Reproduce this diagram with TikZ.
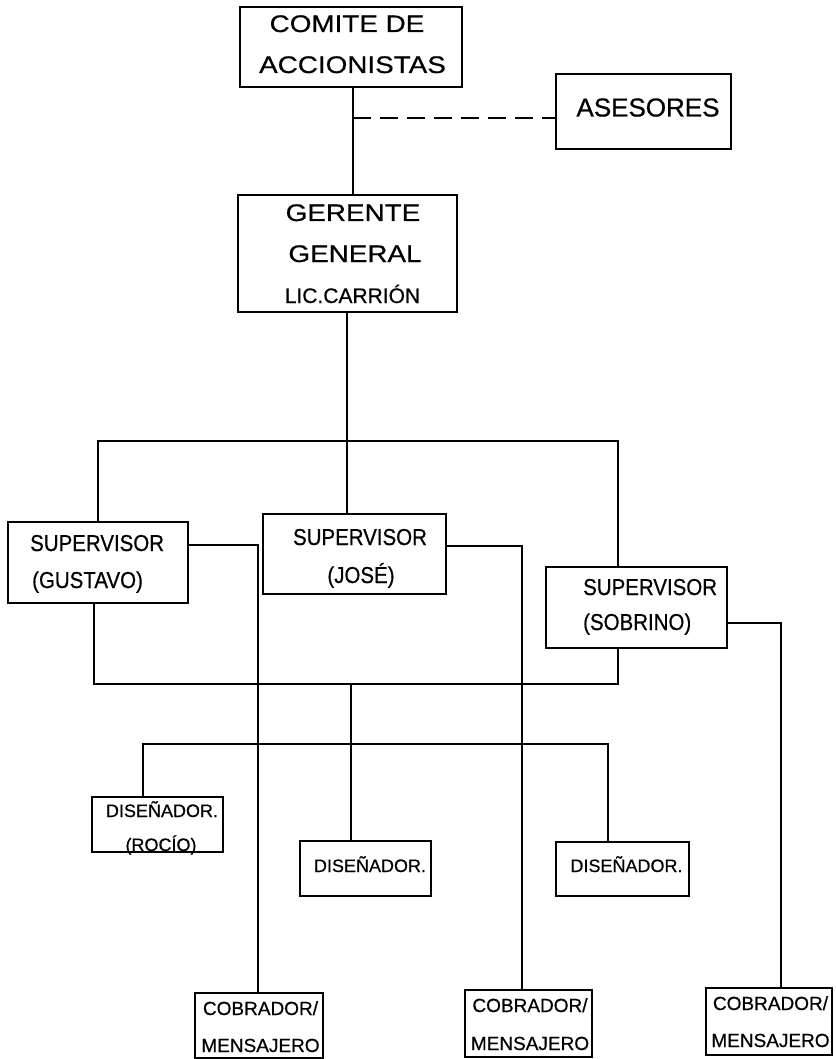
\documentclass[tikz,border=0pt]{standalone}
\usepackage{fontspec}
\setmainfont[FakeBold=0.6]{Liberation Sans}
\newfontfamily\wideface[FakeStretch=1.16,FakeBold=0.6]{Liberation Sans}
\newfontfamily\narrowface[FakeStretch=0.89,FakeBold=0.6]{Liberation Sans}
\begin{document}
\begin{tikzpicture}[x=1pt,y=-1pt,
  box/.style={draw, line width=1.2pt, inner sep=0pt},
  lbl/.style={inner sep=0pt, anchor=base},
  lblw/.style={inner sep=0pt, anchor=base west},
  fbig/.style={font=\wideface\fontsize{24}{28}\selectfont},
  flic/.style={font=\fontsize{21}{25}\selectfont},
  fases/.style={font=\fontsize{26}{30}\selectfont},
  fsup/.style={font=\narrowface\fontsize{23}{27}\selectfont},
  fdis/.style={font=\fontsize{18}{22}\selectfont},
  fcob/.style={font=\fontsize{19}{23}\selectfont},
  conn/.style={line width=1.2pt}]
\useasboundingbox (0,0) rectangle (835,1059);
% boxes
\node[box, minimum width=222pt, minimum height=80pt] (comite) at (351,47) {};
\node[box, minimum width=175pt, minimum height=75pt] (asesores) at (643.5,111.5) {};
\node[box, minimum width=219pt, minimum height=117pt] (gerente) at (347.5,253.5) {};
\node[box, minimum width=180pt, minimum height=81pt] (gustavo) at (98,562.5) {};
\node[box, minimum width=183pt, minimum height=80pt] (jose) at (354.5,554) {};
\node[box, minimum width=181pt, minimum height=81pt] (sobrino) at (636.5,607.5) {};
\node[box, minimum width=131pt, minimum height=55pt] (rocio) at (157.5,824.5) {};
\node[box, minimum width=131pt, minimum height=55pt] (dis2) at (365.5,868.5) {};
\node[box, minimum width=133pt, minimum height=54pt] (dis3) at (622.5,869) {};
\node[box, minimum width=128pt, minimum height=65pt] (cob1) at (259,1025.5) {};
\node[box, minimum width=127pt, minimum height=67pt] (cob2) at (528.5,1023.5) {};
\node[box, minimum width=126pt, minimum height=67pt] (cob3) at (769,1021.5) {};
% texts
\node[lbl, fbig] (t1) at (347,32) {COMITE DE};
\node[lbl, fbig] (t2) at (352.5,73) {ACCIONISTAS};
\node[lbl, fases] (t3) at (648,116.5) {ASESORES};
\node[lbl, fbig] (t4) at (353,221) {GERENTE};
\node[lbl, fbig] (t5) at (355,262) {GENERAL};
\node[lbl, flic] (t6) at (352.5,303) {LIC.CARRIÓN};
\node[lblw, fsup] (t7) at (30,551) {SUPERVISOR};
\node[lblw, fsup] (t8) at (32,588) {(GUSTAVO)};
\node[lbl, fsup] (t9) at (360,545) {SUPERVISOR};
\node[lbl, fsup] (t10) at (361,583) {(JOSÉ)};
\node[lblw, fsup] (t11) at (583,595) {SUPERVISOR};
\node[lblw, fsup] (t12) at (583,630) {(SOBRINO)};
\node[lbl, fdis] (t13) at (162,817) {DISEÑADOR.};
\node[lbl, fdis] (t14) at (161,851) {(ROCÍO)};
\node[lbl, fdis] (t15) at (370,872) {DISEÑADOR.};
\node[lbl, fdis] (t16) at (626.5,872) {DISEÑADOR.};
\node[lbl, fcob] (t17) at (260.5,1015) {COBRADOR/};
\node[lbl, fcob] (t18) at (260.5,1052) {MENSAJERO};
\node[lbl, fcob] (t19) at (530,1012) {COBRADOR/};
\node[lbl, fcob] (t20) at (530,1050) {MENSAJERO};
\node[lbl, fcob] (t21) at (770.5,1010) {COBRADOR/};
\node[lbl, fcob] (t22) at (770.5,1047) {MENSAJERO};
% junction coordinates
\coordinate (jA) at (353,118);
\coordinate (jG) at (347,441);
\coordinate (bL) at (98,441);
\coordinate (bR) at (618,441);
\coordinate (bbL) at (94,684);
\coordinate (bbR) at (618,684);
\coordinate (jD) at (351,684);
\coordinate (jD2) at (351,744);
\coordinate (dL) at (143,744);
\coordinate (dR) at (608,744);
\coordinate (c1) at (258,545);
\coordinate (c2) at (522,546);
\coordinate (c3) at (781,623);
% connectors
\draw[conn] (comite.south -| jA) -- (gerente.north -| jA);
\draw[conn, dash pattern=on 18pt off 9pt] (jA) -- (asesores.west |- jA);
\draw[conn] (gerente.south -| jG) -- (jG) -- (jose.north -| jG);
\draw[conn] (gustavo.north -| bL) -- (bL) -- (bR) -- (sobrino.north -| bR);
\draw[conn] (gustavo.south -| bbL) -- (bbL) -- (bbR) -- (sobrino.south -| bbR);
\draw[conn] (jD) -- (jD2);
\draw[conn] (rocio.north -| dL) -- (dL) -- (dR) -- (dis3.north -| dR);
\draw[conn] (jD2) -- (dis2.north -| jD2);
\draw[conn] (gustavo.east |- c1) -- (c1) -- (cob1.north -| c1);
\draw[conn] (jose.east |- c2) -- (c2) -- (cob2.north -| c2);
\draw[conn] (sobrino.east |- c3) -- (c3) -- (cob3.north -| c3);
\end{tikzpicture}
\end{document}
